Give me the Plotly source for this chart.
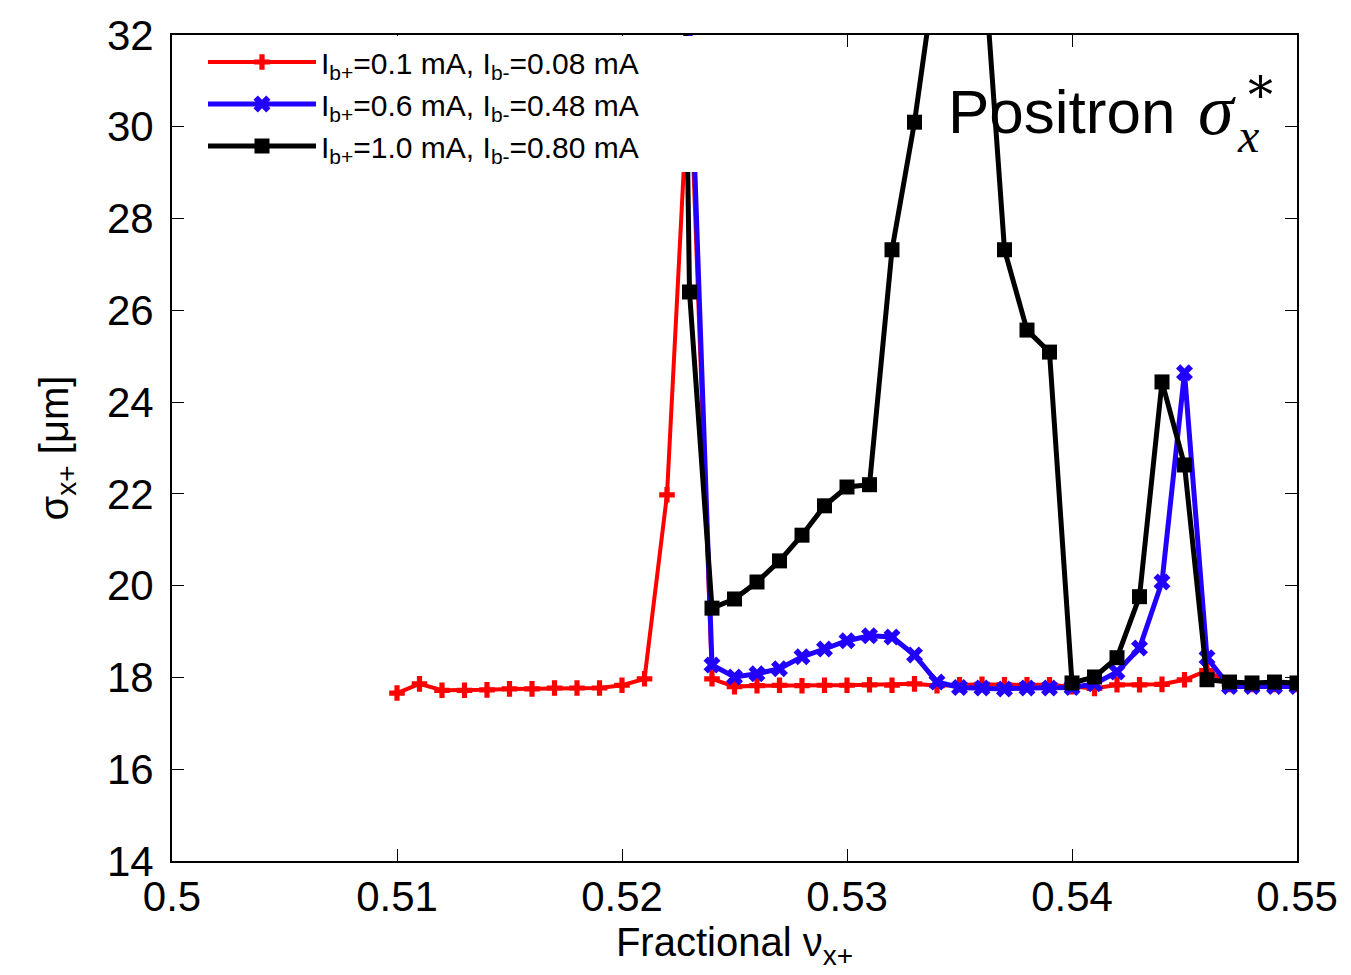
import plotly.graph_objects as go

# ---------------- data ----------------
x_red = [0.510, 0.511, 0.512, 0.513, 0.514, 0.515, 0.516, 0.517, 0.518, 0.519,
         0.520, 0.521, 0.522, 0.523, 0.524, 0.525, 0.526, 0.527, 0.528, 0.529,
         0.530, 0.531, 0.532, 0.533, 0.534, 0.535, 0.536, 0.537, 0.538, 0.539,
         0.540, 0.541, 0.542, 0.543, 0.544, 0.545, 0.546, 0.547, 0.548, 0.549,
         0.550]
y_red = [17.66, 17.86, 17.72, 17.72, 17.73, 17.75, 17.75, 17.77, 17.77, 17.77,
         17.83, 17.97, 21.98, 31.5, 17.97, 17.80, 17.82, 17.83, 17.82, 17.83,
         17.83, 17.84, 17.83, 17.86, 17.82, 17.84, 17.85, 17.84, 17.84, 17.84,
         17.80, 17.76, 17.84, 17.84, 17.85, 17.95, 18.15, 17.85, 17.85, 17.85,
         17.85]

x_blue = [0.523, 0.524, 0.525, 0.526, 0.527, 0.528, 0.529, 0.530, 0.531, 0.532,
          0.533, 0.534, 0.535, 0.536, 0.537, 0.538, 0.539, 0.540, 0.541, 0.542,
          0.543, 0.544, 0.545, 0.546, 0.547, 0.548, 0.549, 0.550]
y_blue = [32.4, 18.27, 18.01, 18.08, 18.19, 18.45, 18.62, 18.80, 18.91, 18.88,
          18.49, 17.90, 17.78, 17.77, 17.75, 17.77, 17.77, 17.78, 17.86, 18.12,
          18.64, 20.08, 24.64, 18.43, 17.80, 17.80, 17.80, 17.80]

x_black = [0.522, 0.523, 0.524, 0.525, 0.526, 0.527, 0.528, 0.529, 0.530, 0.531,
           0.532, 0.533, 0.534, 0.535, 0.536, 0.537, 0.538, 0.539, 0.540, 0.541,
           0.542, 0.543, 0.544, 0.545, 0.546, 0.547, 0.548, 0.549, 0.550]
y_black = [60.0, 26.40, 19.51, 19.71, 20.08, 20.54, 21.10, 21.74, 22.15, 22.20,
           27.32, 30.10, 33.6, 35.0, 34.2, 27.32, 25.57, 25.09, 17.88, 18.01,
           18.43, 19.76, 24.44, 22.63, 17.95, 17.90, 17.88, 17.90, 17.88]

names = ["I<sub>b+</sub>=0.1 mA, I<sub>b-</sub>=0.08 mA",
         "I<sub>b+</sub>=0.6 mA, I<sub>b-</sub>=0.48 mA",
         "I<sub>b+</sub>=1.0 mA, I<sub>b-</sub>=0.80 mA"]

x_ticks = [0.5, 0.51, 0.52, 0.53, 0.54, 0.55]
x_ticklabels = ["0.5", "0.51", "0.52", "0.53", "0.54", "0.55"]
y_ticks = [14, 16, 18, 20, 22, 24, 26, 28, 30, 32]

FONT = "Liberation Sans"

# page body has an 8px margin: figure is placed at (8, 8)
OFF = 8
W, H = 1351 - OFF, 975 - OFF
PL, PR, PT, PB = 172, 1297, 35, 861   # plot area in page pixels


def px(xp):
    return (xp - PL) / (PR - PL)


def py(yp):
    return (PB - yp) / (PB - PT)


PAD = "&nbsp;" * 9   # widen the opaque legend box like the reference

fig = go.Figure()
fig.add_trace(go.Scatter(x=x_red, y=y_red, name=names[0] + PAD, mode="lines+markers",
                         line=dict(color="#ff0000", width=4),
                         marker=dict(symbol="cross", size=13, color="#ff0000")))
fig.add_trace(go.Scatter(x=x_blue, y=y_blue, name=names[1] + PAD, mode="lines+markers",
                         line=dict(color="#2200ff", width=5),
                         marker=dict(symbol="x", size=15, color="#2200ff")))
fig.add_trace(go.Scatter(x=x_black, y=y_black, name=names[2] + PAD, mode="lines+markers",
                         line=dict(color="#000000", width=5),
                         marker=dict(symbol="square", size=15, color="#000000")))

axis_common = dict(showgrid=False, zeroline=False, showline=True, linecolor="black",
                   linewidth=2, mirror="allticks", ticks="inside", ticklen=12,
                   tickwidth=1, tickcolor="black", automargin=False,
                   tickfont=dict(family=FONT, size=42, color="black"))

fig.update_xaxes(range=[0.5, 0.55], tickvals=x_ticks, ticktext=x_ticklabels,
                 ticklabelstandoff=-2,
                 title=dict(text="Fractional ν<sub>x+</sub>", standoff=6,
                            font=dict(family=FONT, size=40, color="black")),
                 **axis_common)
fig.update_yaxes(range=[14, 32], tickvals=y_ticks, ticklabelstandoff=8,
                 title=dict(text="σ<sub>x+</sub> [μm]", standoff=26,
                            font=dict(family=FONT, size=40, color="black")),
                 **axis_common)

# "Positron sigma*_x" label
fig.add_annotation(xref="paper", yref="paper", x=px(946), y=py(112),
                   xanchor="left", yanchor="middle", showarrow=False,
                   text="Positron", font=dict(family=FONT, size=62, color="black"))
fig.add_annotation(xref="paper", yref="paper", x=px(1196), y=py(110),
                   xanchor="left", yanchor="middle", showarrow=False,
                   text="<i>σ</i>", font=dict(family="Liberation Serif", size=72, color="black"))
fig.add_annotation(xref="paper", yref="paper", x=px(1260), y=py(96),
                   xanchor="center", yanchor="middle", showarrow=False,
                   text="*", font=dict(family="DejaVu Serif", size=50, color="black"))
fig.add_annotation(xref="paper", yref="paper", x=px(1248), y=py(135),
                   xanchor="center", yanchor="middle", showarrow=False,
                   text="<i>x</i>", font=dict(family="Liberation Serif", size=48, color="black"))

fig.update_layout(
    width=W, height=H,
    margin=dict(l=PL - OFF, r=(OFF + W) - PR, t=PT - OFF, b=(OFF + H) - PB),
    plot_bgcolor="white", paper_bgcolor="white",
    showlegend=True,
    legend=dict(x=px(203), y=py(36), xanchor="left", yanchor="top",
                bgcolor="white", borderwidth=0, itemwidth=108, tracegroupgap=0,
                font=dict(family=FONT, size=30, color="black")),
)

fig.write_html("out.html")
